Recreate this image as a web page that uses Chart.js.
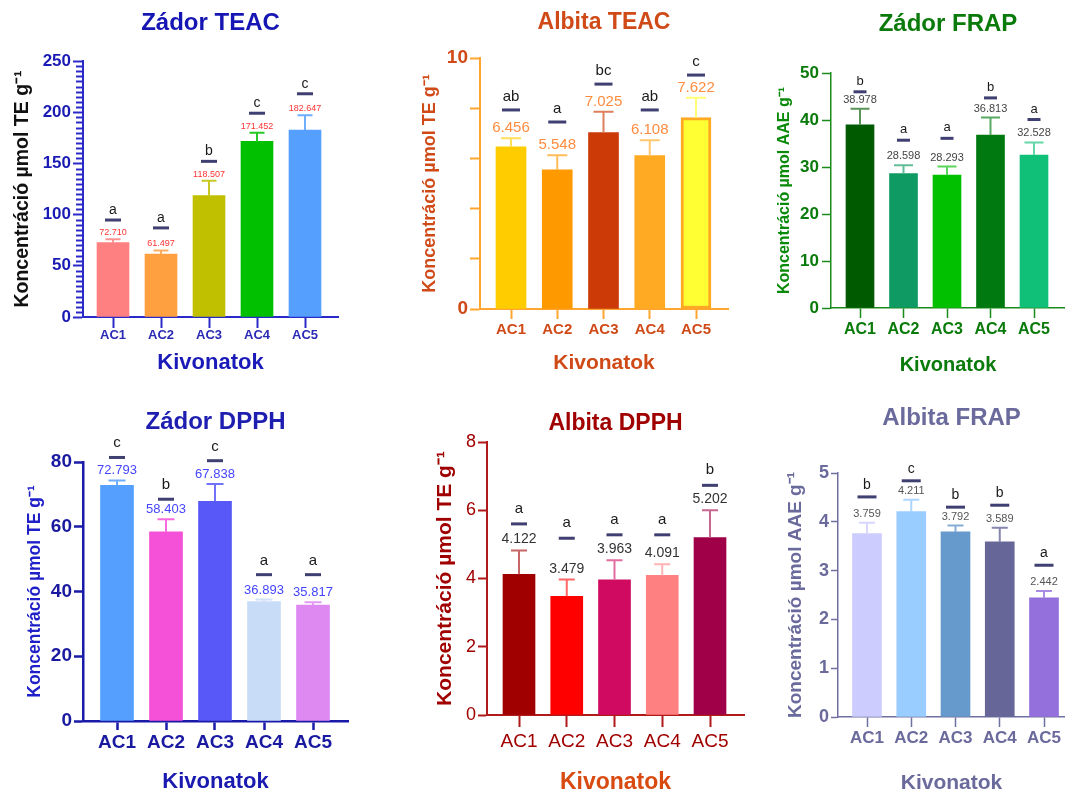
<!DOCTYPE html>
<html>
<head>
<meta charset="utf-8">
<script src="https://cdn.jsdelivr.net/npm/chart.js@4.4.1/dist/chart.umd.min.js"></script>
<style>
  body { margin: 0; background: #fff; }
  #wrap { position: relative; width: 1065px; height: 794px; overflow: hidden; }
  canvas { position: absolute; }
</style>
</head>
<body>
<div id="wrap">
  <canvas id="zadorTeac"></canvas>
  <canvas id="albitaTeac"></canvas>
  <canvas id="zadorFrap"></canvas>
  <canvas id="zadorDpph"></canvas>
  <canvas id="albitaDpph"></canvas>
  <canvas id="albitaFrap"></canvas>
</div>
<script>
// extracts on the x axis
var categories = ['AC1', 'AC2', 'AC3', 'AC4', 'AC5'];

// Zádor TEAC
var zadorTeacValues = [72.710, 61.497, 118.507, 171.452, 182.647];
var zadorTeacErrors = [3.3, 3.5, 14.5, 8.5, 14.4];
var zadorTeacLetters = ['a', 'a', 'b', 'c', 'c'];
var zadorTeacLetterLevels = [94.7, 87, 152, 199, 218];

// Albita TEAC
var albitaTeacValues = [6.456, 5.548, 7.025, 6.108, 7.622];
var albitaTeacErrors = [0.35, 0.58, 0.83, 0.62, 0.79];
var albitaTeacLetters = ['ab', 'a', 'bc', 'ab', 'c'];
var albitaTeacLetterLevels = [7.93, 7.45, 8.96, 7.93, 9.32];

// Zádor FRAP
var zadorFrapValues = [38.978, 28.598, 28.293, 36.813, 32.528];
var zadorFrapErrors = [3.4, 1.8, 1.8, 3.7, 2.7];
var zadorFrapLetters = ['b', 'a', 'a', 'b', 'a'];
var zadorFrapLetterLevels = [46.0, 35.7, 36.1, 44.7, 40.1];

// Zádor DPPH
var zadorDpphValues = [72.793, 58.403, 67.838, 36.893, 35.817];
var zadorDpphErrors = [1.5, 3.9, 5.4, 0.6, 0.9];
var zadorDpphLetters = ['c', 'b', 'c', 'a', 'a'];
var zadorDpphLetterLevels = [81.4, 68.5, 80.4, 45.2, 45.2];

// Albita DPPH
var albitaDpphValues = [4.122, 3.479, 3.963, 4.091, 5.202];
var albitaDpphErrors = [0.7, 0.49, 0.57, 0.33, 0.8];
var albitaDpphLetters = ['a', 'a', 'a', 'a', 'b'];
var albitaDpphLetterLevels = [5.6, 5.18, 5.28, 5.28, 6.73];

// Albita FRAP
var albitaFrapValues = [3.759, 4.211, 3.792, 3.589, 2.442];
var albitaFrapErrors = [0.22, 0.24, 0.13, 0.29, 0.14];
var albitaFrapLetters = ['b', 'c', 'b', 'b', 'a'];
var albitaFrapLetterLevels = [4.51, 4.84, 4.30, 4.34, 3.11];

var family = "'Liberation Sans', Arial, sans-serif";

// mixes a hex colour with white
function lighten(hex, f) {
  var n = parseInt(hex.slice(1), 16);
  var r = n >> 16, g = (n >> 8) & 255, b = n & 255;
  r = Math.round(r + (255 - r) * f);
  g = Math.round(g + (255 - g) * f);
  b = Math.round(b + (255 - b) * f);
  return 'rgb(' + r + ',' + g + ',' + b + ')';
}

// draws error bars, value labels, significance lines and letters, minor ticks
var annotate = {
  id: 'annotate',
  afterDatasetsDraw: function (chart, args, o) {
    var ctx = chart.ctx, y = chart.scales.y;
    var meta = chart.getDatasetMeta(0);
    ctx.save();
    if (o.minorStep) {
      ctx.strokeStyle = o.axisColor;
      ctx.lineWidth = o.axisWidth;
      var left = chart.chartArea.left;
      for (var v = 0; v <= y.max; v += o.minorStep) {
        if (v % o.majorStep === 0) continue;
        var py = Math.round(y.getPixelForValue(v)) + 0.5;
        ctx.beginPath();
        ctx.moveTo(left - o.minorLen, py);
        ctx.lineTo(left, py);
        ctx.stroke();
      }
    }
    meta.data.forEach(function (bar, i) {
      var v = o.values[i];
      var cx = bar.x;
      var base = y.getPixelForValue(v);
      var top = y.getPixelForValue(v + o.errors[i]);
      ctx.strokeStyle = lighten(o.colors[i], o.errLighten);
      ctx.lineWidth = o.errWidth;
      ctx.beginPath();
      ctx.moveTo(cx, base);
      ctx.lineTo(cx, top);
      ctx.moveTo(cx - o.capW / 2, top);
      ctx.lineTo(cx + o.capW / 2, top);
      ctx.stroke();

      ctx.textAlign = 'center';
      ctx.textBaseline = 'alphabetic';
      ctx.fillStyle = o.valueColor;
      ctx.font = o.valueSize + 'px ' + family;
      ctx.fillText(v.toFixed(3), cx, top - o.valueGap);

      var sy = y.getPixelForValue(o.levels[i]);
      ctx.fillStyle = '#3f3f72';
      ctx.fillRect(cx - o.sigW / 2, sy - 1.5, o.sigW, 3);
      ctx.fillStyle = '#1a1a1a';
      ctx.font = o.letterSize + 'px ' + family;
      ctx.fillText(o.letters[i], cx, sy - o.letterGap);
    });
    ctx.restore();
  }
};

function build(id, rect, s, d) {
  var cv = document.getElementById(id);
  cv.width = rect.w;
  cv.height = rect.h;
  cv.style.left = rect.x + 'px';
  cv.style.top = rect.y + 'px';
  var p = s.plot;
  var sp = (s.c5 - s.c1) / 4;
  var n = categories.length;
  return new Chart(cv, {
    type: 'bar',
    data: {
      datasets: [{
        data: d.values.map(function (v, i) { return {x: i + 1, y: v}; }),
        backgroundColor: s.colors,
        borderColor: s.borderColors || s.colors,
        borderWidth: s.borderWidths || 0,
        borderSkipped: false,
        barThickness: s.barW
      }]
    },
    options: {
      responsive: false,
      animation: false,
      events: [],
      layout: {
        padding: {top: s.titleCy - rect.y - 0.6 * s.titleSize, right: rect.x + rect.w - p.r, left: 0, bottom: 0}
      },
      plugins: {
        legend: {display: false},
        tooltip: {enabled: false},
        title: {
          display: true, text: s.title, color: s.titleColor, fullSize: false,
          font: {family: family, size: s.titleSize, weight: 'bold'},
          padding: {top: 0, bottom: p.t - s.titleCy - 0.6 * s.titleSize}
        },
        annotate: {
          values: d.values, errors: d.errors, letters: d.letters, levels: d.levels,
          colors: s.colors, errLighten: s.errLighten, errWidth: s.errWidth || 2, capW: s.capW,
          valueColor: s.valueColor, valueSize: s.valueSize, valueGap: s.valueGap,
          letterSize: s.letterSize, letterGap: s.letterGap, sigW: s.sigW,
          minorStep: s.minorStep, majorStep: s.yLabelEvery, minorLen: s.minorLen,
          axisColor: s.axisColor, axisWidth: s.axisWidth
        }
      },
      scales: {
        x: {
          type: 'linear', bounds: 'data', offset: false,
          min: 1 - (s.c1 - p.l) / sp,
          max: n + (p.r - s.c5) / sp,
          afterBuildTicks: function (sc) {
            sc.ticks = categories.map(function (c, i) { return {value: i + 1}; });
          },
          afterFit: function (sc) { sc.height = rect.y + rect.h - p.b; },
          grid: {drawOnChartArea: false, offset: false, tickLength: s.xTick, color: s.axisColor, tickWidth: s.axisWidth},
          border: {color: s.axisColor, width: s.axisWidth},
          ticks: {
            autoSkip: false, maxRotation: 0, color: s.xLabelColor,
            font: {family: family, size: s.xLabelSize, weight: s.xLabelWeight},
            padding: s.xLabelCy - p.b - s.xTick - 0.6 * s.xLabelSize,
            callback: function (v) { return categories[Math.round(v) - 1]; }
          },
          title: {
            display: true, text: 'Kivonatok', color: s.xTitleColor,
            font: {family: family, size: s.xTitleSize, weight: 'bold'},
            padding: {top: 0, bottom: rect.y + rect.h - s.xTitleCy - 0.6 * s.xTitleSize}
          }
        },
        y: {
          min: 0, max: s.yMax,
          afterFit: function (sc) { sc.width = p.l - rect.x; },
          grid: {drawOnChartArea: false, tickLength: s.yTick, color: s.axisColor, tickWidth: s.axisWidth},
          border: {color: s.axisColor, width: s.axisWidth},
          ticks: {
            stepSize: s.yStep, color: s.yLabelColor, padding: s.yPad,
            font: {family: family, size: s.yLabelSize, weight: s.yLabelWeight},
            callback: function (v) { return v % s.yLabelEvery === 0 ? v : ''; }
          },
          title: {
            display: true, text: s.yTitle, color: s.yTitleColor,
            font: {family: family, size: s.yTitleSize, weight: s.yTitleWeight || 'bold'},
            padding: {top: s.yTitleCx - rect.x - 0.6 * s.yTitleSize, bottom: 0}
          }
        }
      }
    },
    plugins: [annotate]
  });
}

build('zadorTeac', {x: 0, y: 0, w: 355, h: 397}, {
  title: 'Zádor TEAC', titleColor: '#1616b4', titleSize: 24, titleCy: 23,
  plot: {l: 83, t: 61, r: 338, b: 317}, c1: 113, c5: 305, barW: 32,
  colors: ['#ff8080', '#ffa040', '#c0c000', '#00c000', '#55a0ff'],
  errLighten: 0.15, capW: 15,
  axisColor: '#2a2ac8', axisWidth: 2,
  yMax: 250, yStep: 50, yLabelEvery: 50, minorStep: 5, minorLen: 7, yTick: 10, yPad: 2,
  yLabelColor: '#1a1ab4', yLabelSize: 17, yLabelWeight: 'bold',
  yTitle: 'Koncentráció µmol TE g⁻¹', yTitleColor: '#111', yTitleSize: 19.5, yTitleCx: 23,
  xTick: 11, xLabelColor: '#2a2ab4', xLabelSize: 13, xLabelWeight: 'bold', xLabelCy: 335,
  xTitleColor: '#1a1ab8', xTitleSize: 22, xTitleCy: 363,
  valueColor: '#ff3333', valueSize: 9, valueGap: 4,
  letterSize: 14, letterGap: 6, sigW: 16
}, {values: zadorTeacValues, errors: zadorTeacErrors, letters: zadorTeacLetters, levels: zadorTeacLetterLevels});

build('albitaTeac', {x: 355, y: 0, w: 380, h: 397}, {
  title: 'Albita TEAC', titleColor: '#d04a18', titleSize: 23, titleCy: 23,
  plot: {l: 480, t: 58, r: 728, b: 309}, c1: 511, c5: 696, barW: 30,
  colors: ['#ffcc00', '#ff9900', '#cc3a08', '#ffaa22', '#ffff33'],
  borderColors: ['#ffcc00', '#ff9900', '#cc3a08', '#ffaa22', '#ffaa22'],
  borderWidths: [0, 0, 0, 0, 3],
  errLighten: 0.35, capW: 20,
  axisColor: '#ffa530', axisWidth: 2,
  yMax: 10, yStep: 1, yLabelEvery: 5, yTick: 10, yPad: 2,
  yLabelColor: '#d04a18', yLabelSize: 19, yLabelWeight: 'bold',
  yTitle: 'Koncentráció µmol TE g⁻¹', yTitleColor: '#d04a18', yTitleSize: 18, yTitleCx: 430,
  xTick: 10, xLabelColor: '#d04a18', xLabelSize: 15, xLabelWeight: 'bold', xLabelCy: 330,
  xTitleColor: '#d04a18', xTitleSize: 21, xTitleCy: 363,
  valueColor: '#ff8c40', valueSize: 15, valueGap: 6,
  letterSize: 15, letterGap: 9, sigW: 18
}, {values: albitaTeacValues, errors: albitaTeacErrors, letters: albitaTeacLetters, levels: albitaTeacLetterLevels});

build('zadorFrap', {x: 720, y: 0, w: 345, h: 397}, {
  title: 'Zádor FRAP', titleColor: '#0a7a0a', titleSize: 24, titleCy: 24,
  plot: {l: 831, t: 73, r: 1065, b: 308}, c1: 860, c5: 1034, barW: 28,
  colors: ['#005a00', '#0e9a62', '#00c000', '#007a10', '#10c078'],
  errLighten: 0.35, capW: 19,
  axisColor: '#1a8a1a', axisWidth: 1.5,
  yMax: 50, yStep: 10, yLabelEvery: 10, yTick: 9, yPad: 3,
  yLabelColor: '#0a7a0a', yLabelSize: 17, yLabelWeight: 'bold',
  yTitle: 'Koncentráció µmol AAE g⁻¹', yTitleColor: '#0a8a0a', yTitleSize: 16, yTitleCx: 785,
  xTick: 10, xLabelColor: '#0a7a0a', xLabelSize: 16, xLabelWeight: 'bold', xLabelCy: 330,
  xTitleColor: '#0a7a0a', xTitleSize: 20, xTitleCy: 365,
  valueColor: '#444', valueSize: 11, valueGap: 6,
  letterSize: 13, letterGap: 7, sigW: 13
}, {values: zadorFrapValues, errors: zadorFrapErrors, letters: zadorFrapLetters, levels: zadorFrapLetterLevels});

build('zadorDpph', {x: 0, y: 397, w: 355, h: 397}, {
  title: 'Zádor DPPH', titleColor: '#1e1eb0', titleSize: 24, titleCy: 422,
  plot: {l: 83, t: 462, r: 348, b: 721}, c1: 117, c5: 313, barW: 33,
  colors: ['#55a0ff', '#f550d8', '#5858f8', '#c8dcf8', '#de88f2'],
  errLighten: 0.15, capW: 17,
  axisColor: '#1a1aa8', axisWidth: 2.5,
  yMax: 80, yStep: 20, yLabelEvery: 20, yTick: 9, yPad: 2,
  yLabelColor: '#1a1aa0', yLabelSize: 19, yLabelWeight: 'bold',
  yTitle: 'Koncentráció µmol TE g⁻¹', yTitleColor: '#2020c8', yTitleSize: 17.5, yTitleCx: 35,
  xTick: 9, xLabelColor: '#1a1aa0', xLabelSize: 19, xLabelWeight: 'bold', xLabelCy: 743,
  xTitleColor: '#1a1ab0', xTitleSize: 22, xTitleCy: 782,
  valueColor: '#4545ff', valueSize: 13, valueGap: 6,
  letterSize: 15, letterGap: 10, sigW: 16
}, {values: zadorDpphValues, errors: zadorDpphErrors, letters: zadorDpphLetters, levels: zadorDpphLetterLevels});

build('albitaDpph', {x: 355, y: 397, w: 395, h: 397}, {
  title: 'Albita DPPH', titleColor: '#a00000', titleSize: 23, titleCy: 424,
  plot: {l: 487, t: 442, r: 744, b: 715}, c1: 519, c5: 710, barW: 32,
  colors: ['#a00000', '#ff0000', '#d00a60', '#ff8080', '#a00048'],
  errLighten: 0.4, capW: 16,
  axisColor: '#b01a1a', axisWidth: 2,
  yMax: 8, yStep: 2, yLabelEvery: 2, yTick: 9, yPad: 2,
  yLabelColor: '#a00000', yLabelSize: 18, yLabelWeight: 'normal',
  yTitle: 'Koncentráció µmol TE g⁻¹', yTitleColor: '#a00000', yTitleSize: 21, yTitleCx: 445,
  xTick: 12, xLabelColor: '#a00000', xLabelSize: 19, xLabelWeight: 'normal', xLabelCy: 742,
  xTitleColor: '#d84a10', xTitleSize: 23, xTitleCy: 783,
  valueColor: '#333', valueSize: 14, valueGap: 7,
  letterSize: 15, letterGap: 11, sigW: 16
}, {values: albitaDpphValues, errors: albitaDpphErrors, letters: albitaDpphLetters, levels: albitaDpphLetterLevels});

build('albitaFrap', {x: 720, y: 397, w: 345, h: 397}, {
  title: 'Albita FRAP', titleColor: '#6a6a9c', titleSize: 24, titleCy: 418,
  plot: {l: 838, t: 473, r: 1065, b: 717}, c1: 867, c5: 1044, barW: 29,
  colors: ['#ccccff', '#99ccff', '#6699cc', '#666699', '#9370db'],
  errLighten: 0.2, capW: 16,
  axisColor: '#7070a0', axisWidth: 1.5,
  yMax: 5, yStep: 1, yLabelEvery: 1, yTick: 7, yPad: 2,
  yLabelColor: '#6a6a9c', yLabelSize: 18, yLabelWeight: 'bold',
  yTitle: 'Koncentráció µmol AAE g⁻¹', yTitleColor: '#6a6a9c', yTitleSize: 19, yTitleCx: 796,
  xTick: 10, xLabelColor: '#6a6a9c', xLabelSize: 17, xLabelWeight: 'bold', xLabelCy: 738,
  xTitleColor: '#6a6a9c', xTitleSize: 21, xTitleCy: 783,
  valueColor: '#555', valueSize: 11, valueGap: 6,
  letterSize: 14, letterGap: 8, sigW: 19
}, {values: albitaFrapValues, errors: albitaFrapErrors, letters: albitaFrapLetters, levels: albitaFrapLetterLevels});
</script>
</body>
</html>
